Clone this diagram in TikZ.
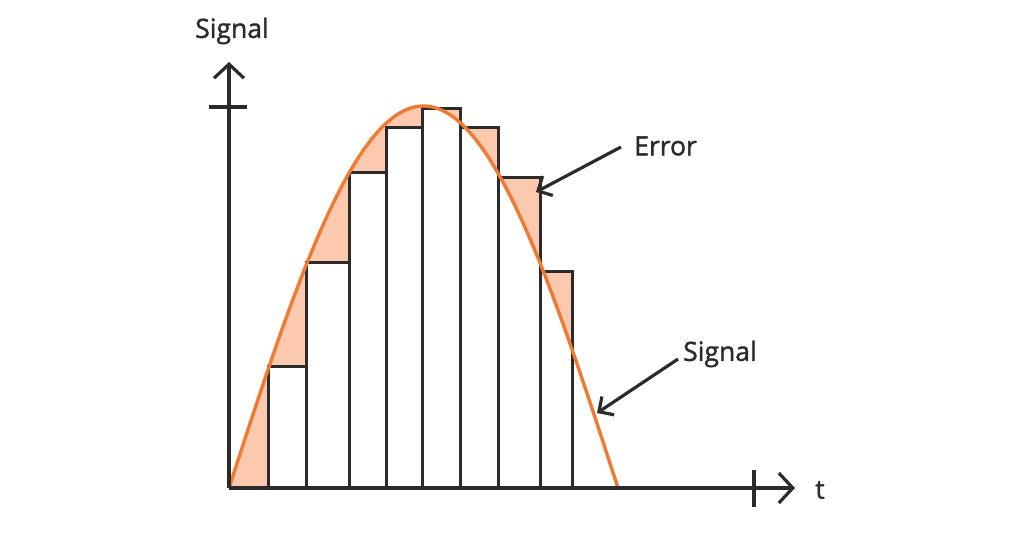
\documentclass[tikz,border=0pt]{standalone}
\usepackage{fontspec}
\setmainfont{Open Sans}
\newfontfamily\labelfont{Open Sans}[FakeBold=1.4]
\usetikzlibrary{arrows.meta}
\definecolor{ink}{HTML}{2B2B2B}
\definecolor{sigline}{HTML}{EE7A33}
\definecolor{errfill}{HTML}{FCC9AE}
\tikzset{
  axis/.style={ink, line width=3.2pt, -{Straight Barb[length=14pt, width=30pt, line width=3.2pt]}},
  callout/.style={ink, line width=3.2pt, -{Straight Barb[length=11pt, width=22pt, line width=3.2pt]}},
  bar/.style={ink, line width=3pt},
  label/.style={text=ink, font=\labelfont\fontsize{26.5}{30}\selectfont, inner sep=0pt},
}
\begin{document}
\begin{tikzpicture}[x=1pt, y=-1pt]
    \useasboundingbox (0,0) rectangle (1024,534);

    % Error areas
    \begin{scope}
        \clip (229,0) rectangle (572,488);
        \fill[errfill] plot[domain=229:618, samples=120] (\x, {488 - 382*sin(0.46272*(\x-229))}) -- cycle;
    \end{scope}
    \foreach \l/\r/\t in {268/306/366, 306/349/263, 349/386/173, 386/422/128, 422/460/109, 460/498/128, 498/540/178, 540/572/272}
        \fill[errfill] (\l,488) rectangle (\r,\t);
    \begin{scope}
        \clip plot[domain=229:618, samples=120] (\x, {488 - 382*sin(0.46272*(\x-229))}) -- cycle;
        \foreach \l/\r/\t in {268/306/366, 306/349/263, 349/386/173, 386/422/128, 422/460/109, 460/498/128, 498/540/178, 540/572/272}
            \fill[white] (\l,488) rectangle (\r,\t);
    \end{scope}

    % Bars
    \foreach \l/\r/\t in {268/306/366, 306/349/263, 349/386/173, 386/422/128, 422/460/109, 460/498/128, 498/540/178, 540/572/272}
        \draw[bar] (\l,488) rectangle (\r,\t);

    % Signal curve
    \draw[sigline, line width=3.4pt, domain=229:618, samples=120] plot (\x, {488 - 382*sin(0.46272*(\x-229))});

    % Axes
    \coordinate (O) at (229,488);
    \coordinate (ytop) at (229,62);
    \coordinate (xend) at (795,488);
    \draw[axis] (O) -- (ytop);
    \draw[axis] (O) -- (xend);
    \draw[ink, line width=3.2pt] (209,107) -- (247,107);
    \draw[ink, line width=3.2pt] (754,470) -- (754,507);

    % Labels
    \node[label] (ylab) at (232,31) {Signal};
    \node[label] (tlab) at (820,490) {t};
    \node[label, anchor=west] (err) at (634,146) {Error};
    \node[label, anchor=west] (sig) at (683,354) {Signal};

    % Callouts
    \coordinate (errtip) at (536,192);
    \coordinate (sigtip) at (597,413);
    \draw[callout] ([xshift=-13pt, yshift=-1pt]err.west) -- (errtip);
    \draw[callout] ([xshift=-5pt, yshift=-5pt]sig.west) -- (sigtip);
\end{tikzpicture}
\end{document}
